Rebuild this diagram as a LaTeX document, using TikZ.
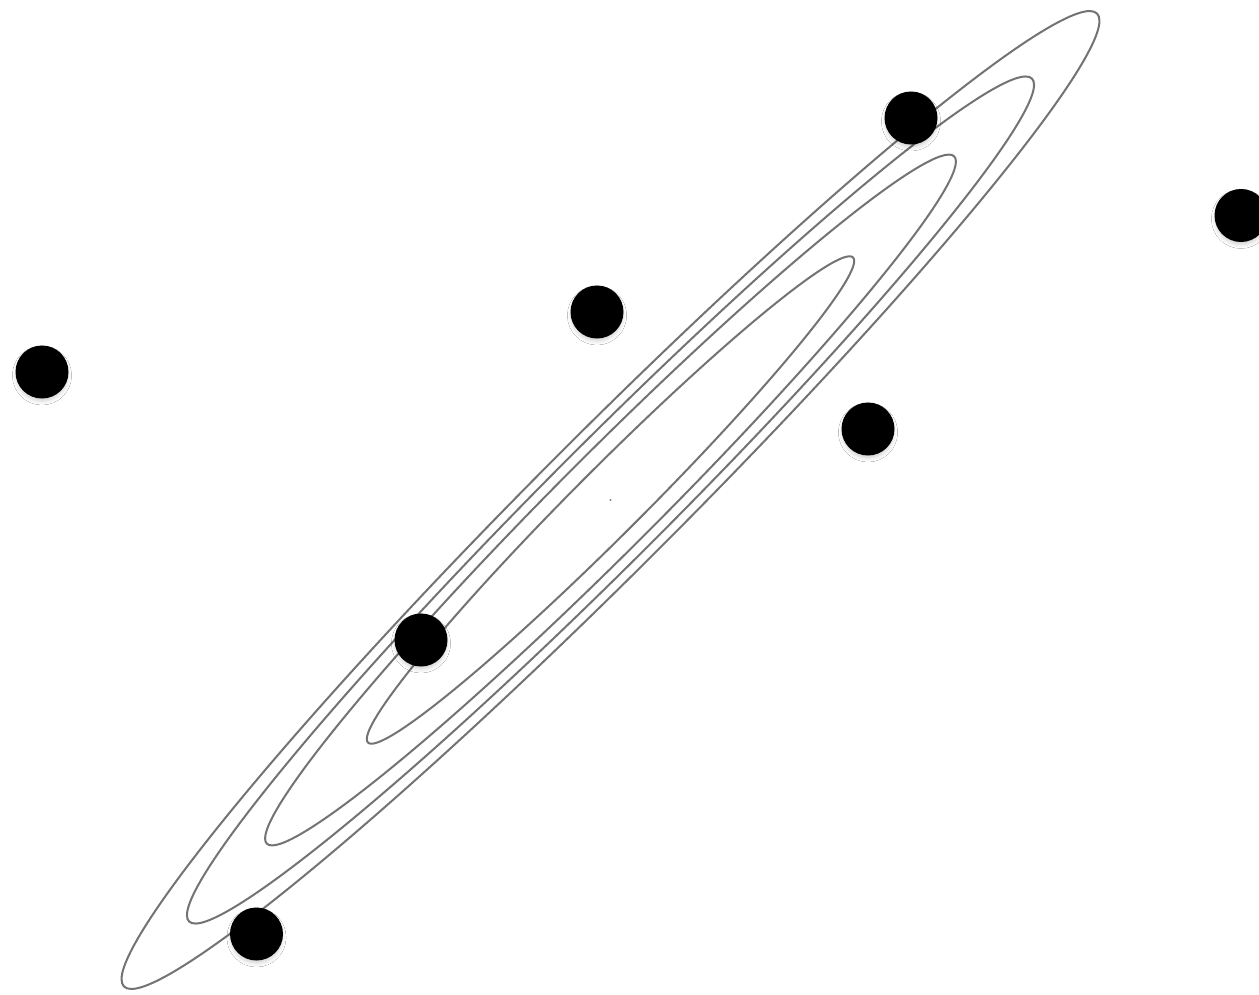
\documentclass[tikz,border=0pt]{standalone}
\usetikzlibrary{shadows.blur}
\tikzset{
  contour/.style={draw=black!55, line width=2pt},
  datadot/.style={circle, fill=black, inner sep=0pt, minimum size=53pt,
    blur shadow={shadow xshift=0pt, shadow yshift=-3.5pt, shadow blur radius=4pt, shadow opacity=18, shadow scale=0.97}},
  centermark/.style={circle, fill=black!50, inner sep=0pt, minimum size=2.4pt}
}
\begin{document}
\begin{tikzpicture}[x=1pt, y=-1pt]
  \useasboundingbox (0,0) rectangle (1259,994);
  \fill[white] (0,0) rectangle (1259,994);
  \coordinate (c) at (610.5,500);
  \draw[contour, rotate around={45:(c)}] (c) ellipse [x radius=688pt, y radius=68.8pt];
  \draw[contour, rotate around={45:(c)}] (c) ellipse [x radius=596pt, y radius=59.2pt];
  \draw[contour, rotate around={45:(c)}] (c) ellipse [x radius=486pt, y radius=48.8pt];
  \draw[contour, rotate around={45:(c)}] (c) ellipse [x radius=343pt, y radius=33.5pt];
  \node[centermark] (m) at (c) {};
  \node[datadot] (d1) at (911,118) {};
  \node[datadot] (d2) at (1241,215.5) {};
  \node[datadot] (d3) at (597,312) {};
  \node[datadot] (d4) at (42,372) {};
  \node[datadot] (d5) at (868,429) {};
  \node[datadot] (d6) at (421,640) {};
  \node[datadot] (d7) at (256.5,934) {};
\end{tikzpicture}
\end{document}
